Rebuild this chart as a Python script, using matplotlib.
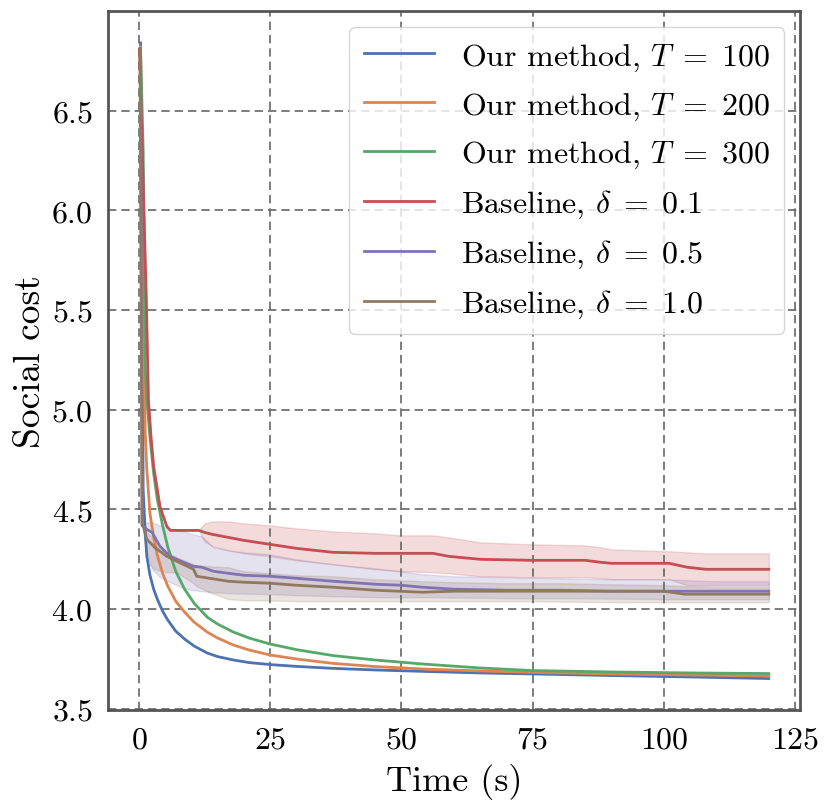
import matplotlib
matplotlib.use("Agg")
import matplotlib.pyplot as plt

# --- données ---
t_ours = [0.3, 0.8, 1.2, 1.5, 2.1, 2.8, 3.5, 4.5, 5.5, 7, 8.7, 10.5, 13, 15, 18, 21,
          25, 30, 37, 45, 54, 65, 75, 90, 105, 120]
ours_100 = [6.84, 4.60, 4.38, 4.265, 4.17, 4.10, 4.05, 3.99, 3.945, 3.89, 3.85, 3.815,
            3.78, 3.762, 3.745, 3.732, 3.722, 3.713, 3.703, 3.695, 3.688, 3.68, 3.675,
            3.667, 3.66, 3.652]
ours_200 = [6.82, 5.50, 4.88, 4.70, 4.48, 4.36, 4.27, 4.18, 4.115, 4.04, 3.985, 3.935,
            3.885, 3.855, 3.82, 3.795, 3.77, 3.75, 3.728, 3.712, 3.70, 3.69, 3.683,
            3.675, 3.67, 3.665]
ours_300 = [6.81, 6.30, 5.215, 5.05, 4.86, 4.68, 4.55, 4.42, 4.31, 4.19, 4.10, 4.03,
            3.96, 3.925, 3.885, 3.855, 3.825, 3.797, 3.767, 3.745, 3.725, 3.705, 3.692,
            3.685, 3.68, 3.677]

t_b01 = [0.1, 1.4, 1.8, 2.3, 2.8, 4.0, 5.3, 6.0, 11.4, 12.5, 14, 17, 20, 25, 30, 37,
         45, 50, 56, 59, 65, 75, 85, 88, 90, 101, 104.5, 108, 120]
b01_mean = [6.81, 5.55, 5.05, 4.86, 4.715, 4.515, 4.415, 4.395, 4.395, 4.385, 4.375,
            4.36, 4.345, 4.325, 4.305, 4.285, 4.28, 4.28, 4.28, 4.265, 4.25, 4.245,
            4.245, 4.235, 4.23, 4.23, 4.21, 4.20, 4.20]
b01_hi = [6.81, 5.55, 5.05, 4.86, 4.715, 4.515, 4.415, 4.395, 4.395, 4.43, 4.44, 4.44,
          4.43, 4.42, 4.405, 4.39, 4.38, 4.37, 4.37, 4.36, 4.335, 4.325, 4.32, 4.31,
          4.30, 4.29, 4.285, 4.28, 4.28]
b01_lo = [6.81, 5.55, 5.05, 4.86, 4.715, 4.515, 4.415, 4.395, 4.395, 4.34, 4.315,
          4.295, 4.28, 4.265, 4.245, 4.225, 4.20, 4.19, 4.185, 4.18, 4.165, 4.16, 4.16,
          4.155, 4.15, 4.15, 4.12, 4.12, 4.12]

t_b05 = [0.3, 0.6, 1.5, 2.5, 4.0, 5.9, 8.5, 10.4, 12, 14.2, 17, 20, 25, 30, 37, 45,
         50, 54, 60, 70, 80, 90, 100, 110, 120]
b05_mean = [6.81, 4.42, 4.40, 4.385, 4.315, 4.265, 4.235, 4.215, 4.21, 4.19, 4.18,
            4.17, 4.165, 4.155, 4.14, 4.125, 4.12, 4.11, 4.10, 4.095, 4.095, 4.09,
            4.09, 4.09, 4.09]
b05_hi = [6.81, 4.42, 4.435, 4.435, 4.42, 4.40, 4.39, 4.375, 4.365, 4.31, 4.295, 4.285,
          4.275, 4.25, 4.225, 4.205, 4.19, 4.175, 4.165, 4.16, 4.155, 4.15, 4.15,
          4.14, 4.14]
b05_lo = [6.81, 4.42, 4.285, 4.20, 4.16, 4.135, 4.105, 4.095, 4.09, 4.085, 4.08,
          4.078, 4.075, 4.07, 4.065, 4.06, 4.06, 4.06, 4.058, 4.055, 4.055, 4.053,
          4.05, 4.05, 4.05]

t_b10 = [0.2, 0.6, 0.9, 1.5, 3.0, 5.3, 7.2, 10.4, 11, 13.4, 17, 20, 25, 30, 37, 45,
         54, 60, 70, 80, 90, 100, 104, 110, 120]
b10_mean = [6.81, 4.42, 4.41, 4.35, 4.31, 4.265, 4.24, 4.20, 4.165, 4.155, 4.14,
            4.135, 4.13, 4.12, 4.11, 4.095, 4.085, 4.09, 4.09, 4.09, 4.09, 4.09,
            4.075, 4.075, 4.075]
b10_hi = [6.81, 4.42, 4.40, 4.385, 4.35, 4.285, 4.26, 4.225, 4.22, 4.215, 4.21, 4.19,
          4.18, 4.17, 4.165, 4.15, 4.14, 4.135, 4.13, 4.13, 4.125, 4.12, 4.115, 4.11,
          4.11]
b10_lo = [6.81, 4.42, 4.38, 4.235, 4.20, 4.185, 4.185, 4.13, 4.115, 4.085, 4.05,
          4.045, 4.043, 4.04, 4.04, 4.04, 4.04, 4.04, 4.04, 4.038, 4.035, 4.035, 4.035,
          4.035, 4.035]

labels = [r"Our method, $T\;=\;100$", r"Our method, $T\;=\;200$", r"Our method, $T\;=\;300$",
          r"Baseline, $\delta\;=\;0.1$", r"Baseline, $\delta\;=\;0.5$", r"Baseline, $\delta\;=\;1.0$"]
couleurs = ["#4C72B0", "#DD8452", "#55A868", "#C44E52", "#8172B3", "#937860"]

plt.rcParams["font.family"] = "cmr10"
plt.rcParams["mathtext.fontset"] = "cm"
plt.rcParams["axes.formatter.use_mathtext"] = True

fig = plt.figure(figsize=(8.31, 8.12), dpi=100)
ax = fig.add_axes([0.130, 0.124, 0.833, 0.861])

ax.plot(t_ours, ours_100, color=couleurs[0], lw=2, label=labels[0])
ax.plot(t_ours, ours_200, color=couleurs[1], lw=2, label=labels[1])
ax.plot(t_ours, ours_300, color=couleurs[2], lw=2, label=labels[2])

for t, m, lo, hi, c, lab in [(t_b01, b01_mean, b01_lo, b01_hi, couleurs[3], labels[3]),
                             (t_b05, b05_mean, b05_lo, b05_hi, couleurs[4], labels[4]),
                             (t_b10, b10_mean, b10_lo, b10_hi, couleurs[5], labels[5])]:
    ax.plot(t, m, color=c, lw=2, label=lab)
    ax.fill_between(t, lo, hi, color=c, alpha=0.2, lw=1)

ax.set_xticks([0, 25, 50, 75, 100, 125])
ax.set_yticks([3.5, 4.0, 4.5, 5.0, 5.5, 6.0, 6.5])
ax.set_xlabel("Time (s)", fontsize=26, labelpad=7)
ax.set_ylabel("Social cost", fontsize=27, labelpad=3)
ax.tick_params(labelsize=23, length=0, pad=11)
ax.grid(True, linestyle="--", color="#666666", lw=1.2, dashes=(5, 3))
for s in ax.spines.values():
    s.set_color("#555555")
    s.set_linewidth(2)

leg = ax.legend(loc="upper right", fontsize=23, framealpha=0.8, edgecolor="#cccccc",
                handlelength=2.2, handletextpad=0.85, borderpad=0.45, labelspacing=0.55)

plt.savefig("out.png", dpi=100)
